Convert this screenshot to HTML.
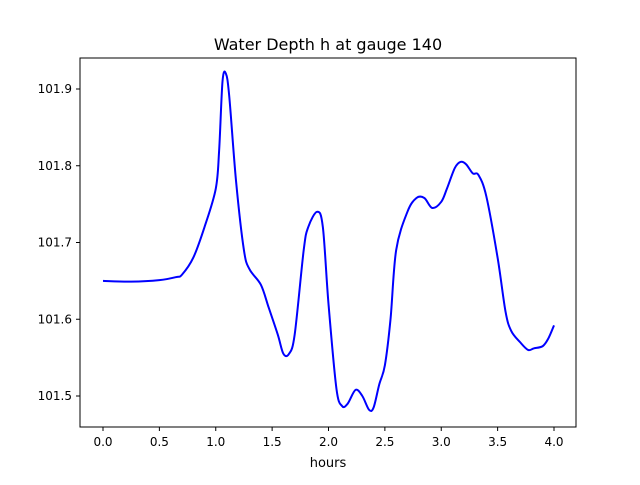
<!DOCTYPE html>
<html><head><meta charset="utf-8"><style>
body{margin:0;background:#fff;font-family:"Liberation Sans","DejaVu Sans",sans-serif;}
svg text{font-family:"DejaVu Sans","Liberation Sans",sans-serif;}
</style></head><body>
<svg id="chart" width="640" height="480" xmlns="http://www.w3.org/2000/svg">
<rect width="640" height="480" fill="#fff"/>
<text x="328" y="50" font-size="16" text-anchor="middle">Water Depth h at gauge 140</text>
<text x="328" y="467" font-size="13" text-anchor="middle">hours</text>
<g id="ticks"></g>
<path id="line" fill="none" stroke="#0000ff" stroke-width="2"/>
<rect x="80" y="58" width="496" height="369" fill="none" stroke="#000" stroke-width="1"/>
</svg>
<script>
const times=[0,0.25,0.5,0.65,0.7,0.8,0.9,1.0,1.03,1.06,1.09,1.12,1.18,1.25,1.3,1.4,1.47,1.55,1.6,1.65,1.7,1.78,1.82,1.9,1.95,2.0,2.07,2.12,2.17,2.24,2.3,2.36,2.4,2.45,2.5,2.55,2.6,2.7,2.78,2.85,2.92,3.0,3.05,3.12,3.17,3.22,3.28,3.33,3.4,3.5,3.57,3.62,3.7,3.77,3.82,3.9,3.95,4.0];
const depths=[101.65,101.649,101.651,101.655,101.658,101.68,101.72,101.77,101.82,101.91,101.92,101.89,101.78,101.69,101.665,101.645,101.615,101.58,101.555,101.555,101.58,101.69,101.72,101.74,101.72,101.62,101.51,101.487,101.49,101.508,101.5,101.482,101.485,101.515,101.54,101.6,101.69,101.74,101.758,101.758,101.745,101.753,101.77,101.797,101.805,101.802,101.79,101.788,101.76,101.68,101.61,101.585,101.57,101.56,101.562,101.565,101.575,101.592];
const xTicks=[0,0.5,1,1.5,2,2.5,3,3.5,4];
const xTickLabels=["0.0","0.5","1.0","1.5","2.0","2.5","3.0","3.5","4.0"];
const yTicks=[101.5,101.6,101.7,101.8,101.9];
const yTickLabels=["101.5","101.6","101.7","101.8","101.9"];
const X=t=>103+t*112.75;
const Y=v=>396-(v-101.5)*767.5;
const NS="http://www.w3.org/2000/svg";
const g=document.getElementById('ticks');
function mk(tag,attrs){const e=document.createElementNS(NS,tag);for(const k in attrs)e.setAttribute(k,attrs[k]);g.appendChild(e);return e;}
xTicks.forEach((t,i)=>{
 const l=mk('line',{x1:X(t),x2:X(t),y1:427,y2:431,stroke:'#000'});
 
 
 const s=mk('text',{x:X(t),y:446,'font-size':12,'text-anchor':'middle'});
 
 
 s.textContent=xTickLabels[i];
});
yTicks.forEach((v,i)=>{
 const l=mk('line',{x1:76,x2:80,y1:Y(v),y2:Y(v),stroke:'#000'});
 
 
 const s=mk('text',{x:72,y:Y(v)+4,'font-size':12,'text-anchor':'end'});
 
 
 s.textContent=yTickLabels[i];
});
// Catmull-Rom smooth path
const P=times.map((t,i)=>[X(t),Y(depths[i])]);
let d='M'+P[0][0]+','+P[0][1];
for(let i=0;i<P.length-1;i++){
 const p0=P[Math.max(0,i-1)],p1=P[i],p2=P[i+1],p3=P[Math.min(P.length-1,i+2)];
 const c1=[p1[0]+(p2[0]-p0[0])/6,p1[1]+(p2[1]-p0[1])/6];
 const c2=[p2[0]-(p3[0]-p1[0])/6,p2[1]-(p3[1]-p1[1])/6];
 d+=' C'+c1+' '+c2+' '+p2;
}
document.getElementById('line').setAttribute('d',d);
</script>
</body></html>
